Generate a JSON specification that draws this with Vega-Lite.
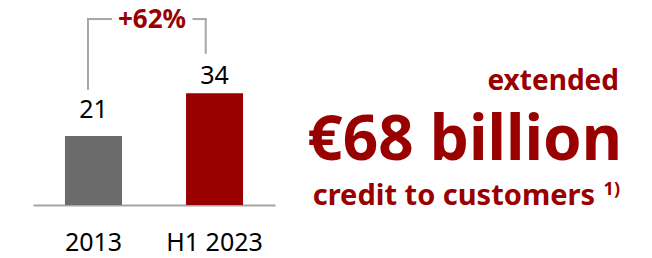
{
  "$schema": "https://vega.github.io/schema/vega-lite/v6.json",
  "padding": {"left": 33, "top": 0, "right": 0, "bottom": 0},
  "background": "white",
  "config": {"view": {"stroke": null}, "font": "Noto Sans", "concat": {"spacing": 0}},
  "datasets": {
    "bars": [{"period": "2013", "credit": 21}, {"period": "H1 2023", "credit": 34}],
    "bracket": [{"period": "2013", "low": 35, "high": 56.6}, {"period": "H1 2023", "low": 46, "high": 56.6}],
    "change": [{"period": "2013", "label": "+62%", "level": 56.6}],
    "headline": [
      {"line": 1, "text": "extended"},
      {"line": 2, "text": "€68 billion"},
      {"line": 3, "text": "credit to customers"},
      {"line": 3, "text": "1)"}
    ]
  },
  "hconcat": [
    {
      "width": 242,
      "height": 205,
      "layer": [
        {
          "data": {"name": "bars"},
          "mark": {"type": "bar"},
          "encoding": {
            "x": {"field": "period", "type": "nominal", "scale": {"domain": ["2013", "H1 2023"], "paddingInner": 0.529, "paddingOuter": 0.264},
              "axis": {"title": null, "labelAngle": 0, "ticks": false, "tickSize": 0, "domainColor": "#a6a6a6", "domainWidth": 2, "labelFontSize": 25, "labelColor": "#000000", "labelPadding": 45, "labelBaseline": "alphabetic", "labelFont": "Noto Sans"}},
            "y": {"field": "credit", "type": "quantitative", "scale": {"domain": [0, 62.4], "nice": false}, "axis": null},
            "color": {"field": "period", "type": "nominal", "scale": {"domain": ["2013", "H1 2023"], "range": ["#6b6b6b", "#990000"]}, "legend": null}
          }
        },
        {
          "data": {"name": "bars"},
          "transform": [{"filter": "datum.period === '2013'"}],
          "mark": {"type": "text", "fontSize": 25, "baseline": "alphabetic", "dy": -18, "color": "#000000"},
          "encoding": {
            "x": {"field": "period", "type": "nominal"},
            "y": {"field": "credit", "type": "quantitative"},
            "text": {"field": "credit", "type": "quantitative"}
          }
        },
        {
          "data": {"name": "bars"},
          "transform": [{"filter": "datum.period === 'H1 2023'"}],
          "mark": {"type": "text", "fontSize": 25, "baseline": "alphabetic", "dy": -9, "color": "#000000"},
          "encoding": {
            "x": {"field": "period", "type": "nominal"},
            "y": {"field": "credit", "type": "quantitative"},
            "text": {"field": "credit", "type": "quantitative"}
          }
        },
        {
          "data": {"name": "bracket"},
          "transform": [{"filter": "datum.period === '2013'"}],
          "mark": {"type": "rule", "color": "#a6a6a6", "strokeWidth": 2, "xOffset": -5.5},
          "encoding": {
            "x": {"field": "period", "type": "nominal"},
            "y": {"field": "low", "type": "quantitative"},
            "y2": {"field": "high"}
          }
        },
        {
          "data": {"name": "bracket"},
          "transform": [{"filter": "datum.period === 'H1 2023'"}],
          "mark": {"type": "rule", "color": "#a6a6a6", "strokeWidth": 2, "xOffset": -8.8},
          "encoding": {
            "x": {"field": "period", "type": "nominal"},
            "y": {"field": "low", "type": "quantitative"},
            "y2": {"field": "high"}
          }
        },
        {
          "data": {"name": "bracket"},
          "transform": [{"filter": "datum.period === '2013'"}],
          "mark": {"type": "rule", "color": "#a6a6a6", "strokeWidth": 2, "xOffset": -6.5, "x2Offset": 18.5},
          "encoding": {
            "x": {"field": "period", "type": "nominal"},
            "x2": {"field": "period"},
            "y": {"field": "high", "type": "quantitative"}
          }
        },
        {
          "data": {"name": "bracket"},
          "transform": [{"filter": "datum.period === 'H1 2023'"}],
          "mark": {"type": "rule", "color": "#a6a6a6", "strokeWidth": 2, "xOffset": -22, "x2Offset": -7.8},
          "encoding": {
            "x": {"field": "period", "type": "nominal"},
            "x2": {"field": "period"},
            "y": {"field": "high", "type": "quantitative"}
          }
        },
        {
          "data": {"name": "change"},
          "mark": {"type": "text", "fontSize": 26, "fontWeight": "bold", "color": "#990000", "baseline": "alphabetic", "dy": 9, "dx": 58.5},
          "encoding": {
            "x": {"field": "period", "type": "nominal"},
            "y": {"field": "level", "type": "quantitative"},
            "text": {"field": "label", "type": "nominal"}
          }
        }
      ]
    },
    {
      "width": 347,
      "height": 205,
      "data": {"name": "headline"},
      "encoding": {
        "x": {"datum": 1, "type": "quantitative", "scale": {"domain": [0, 1]}, "axis": null},
        "y": {"field": "line", "type": "ordinal", "scale": {"type": "point", "range": [90, 205], "padding": 0}, "axis": null},
        "text": {"field": "text", "type": "nominal"}
      },
      "layer": [
        {
          "transform": [{"filter": "datum.line === 1"}],
          "mark": {"type": "text", "fontSize": 28, "fontWeight": "bold", "color": "#990000", "align": "right", "baseline": "alphabetic", "dx": -3}
        },
        {
          "transform": [{"filter": "datum.line === 2"}],
          "mark": {"type": "text", "fontSize": 62, "fontWeight": "bold", "color": "#990000", "align": "right", "baseline": "alphabetic", "dy": 12.5}
        },
        {
          "transform": [{"filter": "datum.line === 3 && datum.text !== '1)'"}],
          "mark": {"type": "text", "fontSize": 29, "fontWeight": "bold", "color": "#990000", "align": "right", "baseline": "alphabetic", "dx": -27}
        },
        {
          "transform": [{"filter": "datum.text === '1)'"}],
          "mark": {"type": "text", "fontSize": 18, "fontWeight": "bold", "color": "#990000", "align": "right", "baseline": "alphabetic", "dy": -10, "dx": -2}
        }
      ]
    }
  ]
}
